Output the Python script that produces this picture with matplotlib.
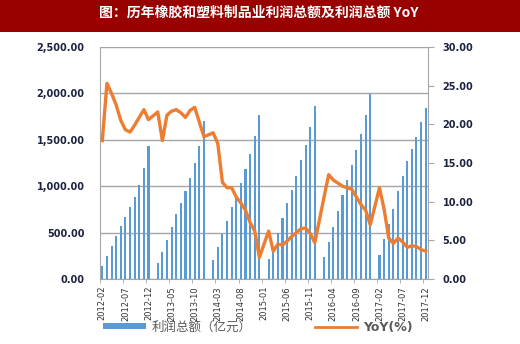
import numpy as np
import matplotlib
matplotlib.use('Agg')
import matplotlib.pyplot as plt
from matplotlib.patches import Rectangle, Patch
from matplotlib.lines import Line2D
from matplotlib.ticker import FuncFormatter, MultipleLocator

plt.rcParams['font.family'] = ['DejaVu Sans', 'Noto Sans CJK SC']

## Data: cumulative profit (亿元) and YoY (%), Feb..Dec of each year (Jan not reported)
years = [2012, 2013, 2014, 2015, 2016, 2017]

profit_by_year = {
    2012: [139, 243, 354, 461, 568, 671, 778, 889, 1014, 1196, 1436],
    2013: [171, 293, 425, 564, 696, 818, 943, 1089, 1246, 1432, 1707],
    2014: [202, 345, 486, 628, 780, 886, 1036, 1190, 1345, 1536, 1767],
    2015: [216, 343, 498, 657, 818, 961, 1107, 1279, 1443, 1643, 1868],
    2016: [239, 404, 564, 736, 904, 1071, 1229, 1393, 1564, 1771, 1993],
    2017: [262, 429, 591, 754, 943, 1111, 1271, 1404, 1532, 1693, 1839],
}

yoy_by_year = {
    2012: [17.9, 25.3, 24.0, 22.5, 20.5, 19.3, 19.0, 19.9, 20.9, 21.9, 20.6],
    2013: [21.6, 17.9, 21.2, 21.7, 21.9, 21.5, 20.9, 21.8, 22.2, 20.3, 18.4],
    2014: [18.9, 17.5, 12.5, 11.8, 11.8, 10.6, 9.8, 8.9, 7.3, 6.2, 2.8],
    2015: [6.2, 3.6, 4.5, 4.4, 4.9, 5.5, 6.0, 6.5, 6.6, 5.9, 4.7],
    2016: [10.6, 13.5, 12.8, 12.4, 12.0, 11.8, 11.6, 10.6, 9.6, 8.9, 7.0],
    2017: [11.8, 9.0, 5.3, 4.6, 5.3, 4.8, 4.1, 4.3, 4.2, 3.8, 3.6],
}

## Build the monthly category axis (January slots stay empty)
months = []
profit = []
yoy = []
for y in years:
    if y != years[0]:
        months.append('%d-01' % y)
        profit.append(np.nan)
        yoy.append(np.nan)
    for k, m in enumerate(range(2, 13)):
        months.append('%d-%02d' % (y, m))
        profit.append(profit_by_year[y][k])
        yoy.append(yoy_by_year[y][k])

profit = np.array(profit, dtype=float)
yoy = np.array(yoy, dtype=float)
x = np.arange(len(months))
ok = ~np.isnan(profit)

## Plot
fig = plt.figure(figsize=(5.2, 3.44), dpi=100)
fig.patches.append(Rectangle((0, 1 - 32 / 344), 1, 32 / 344, transform=fig.transFigure,
                             facecolor='#990000', edgecolor='none', zorder=0))
fig.text(0.497, 1 - 13 / 344, '图：历年橡胶和塑料制品业利润总额及利润总额 YoY',
         color='white', fontsize=10, fontweight='bold', ha='center', va='center',
         family=['Noto Sans CJK SC', 'DejaVu Sans'])

ax1 = fig.add_axes([100 / 520, 65 / 344, 328 / 520, 232 / 344])
ax2 = ax1.twinx()

ax1.bar(x[ok], profit[ok], width=0.45, color='#5B9BD5', zorder=2)
ax2.plot(x[ok], yoy[ok], color='#ED7D31', linewidth=2.4, solid_joinstyle='round')

ax1.set_xlim(-0.5, len(months) - 0.5)
ax1.set_ylim(0, 2500)
ax2.set_ylim(0, 30)

ax1.yaxis.set_major_locator(MultipleLocator(500))
ax1.yaxis.set_major_formatter(FuncFormatter(lambda v, p: '{:,.2f}'.format(v)))
ax2.yaxis.set_major_locator(MultipleLocator(5))
ax2.yaxis.set_major_formatter(FuncFormatter(lambda v, p: '%.2f' % v))

ax1.grid(axis='y', color='#A6A6A6', linewidth=1)
ax1.set_axisbelow(True)

ax1.set_xticks(x[::5])
ax1.set_xticklabels(months[::5], rotation=90, fontsize=6, color='#333333')
ax1.set_xticks(np.arange(-0.5, len(months), 5), minor=True)
ax1.tick_params(axis='x', which='major', length=0, pad=5)
ax1.tick_params(axis='x', which='minor', length=3, color='#A6A6A6')

ax1.tick_params(axis='y', length=0, pad=11, labelsize=7, labelcolor='#1C2340')
ax2.tick_params(axis='y', length=4.5, pad=6, labelsize=7, labelcolor='#1C2340', color='#A6A6A6')
for t in ax1.get_yticklabels() + ax2.get_yticklabels():
    t.set_fontweight('bold')

for s in ['top', 'right']:
    ax1.spines[s].set_visible(False)
for s in ['top', 'left', 'bottom']:
    ax2.spines[s].set_visible(False)
ax1.spines['left'].set_color('#A6A6A6')
ax1.spines['bottom'].set_color('#A6A6A6')
ax2.spines['right'].set_color('#A6A6A6')

handles = [Patch(facecolor='#5B9BD5', edgecolor='none'),
           Line2D([], [], color='#ED7D31', linewidth=2)]
leg = fig.legend(handles, ['利润总额（亿元）', 'YoY(%)'], loc='center',
                 bbox_to_anchor=(0.496, 17 / 344), ncol=2, frameon=False,
                 fontsize=9, handlelength=3.4, handleheight=0.45, handletextpad=0.45,
                 columnspacing=5.1, labelcolor='#595959')
leg.get_texts()[1].set_fontweight('bold')

fig.savefig('out.png', dpi=100)
